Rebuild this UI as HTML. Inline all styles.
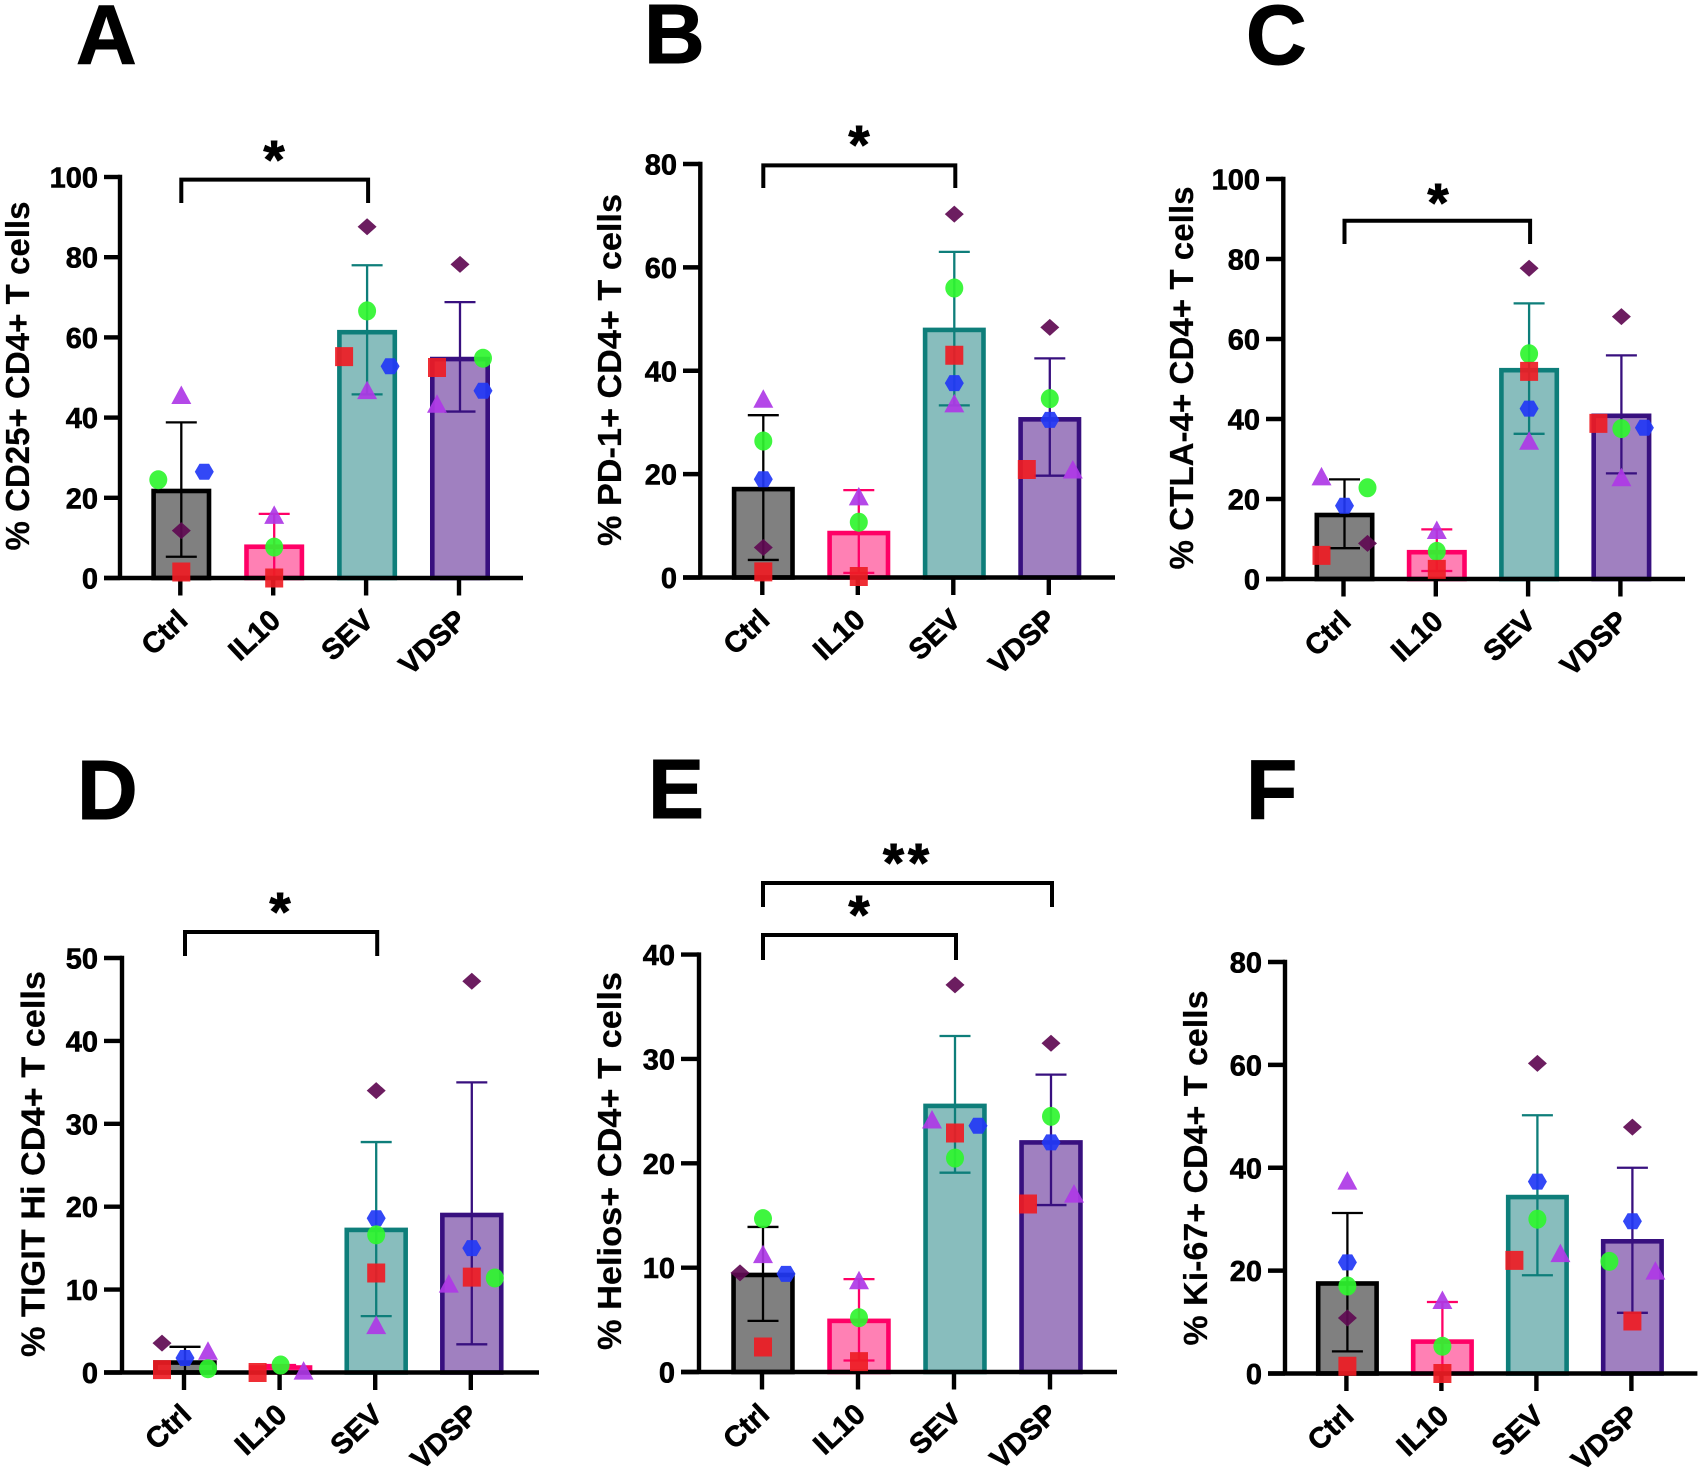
<!DOCTYPE html>
<html lang="en">
<head>
<meta charset="utf-8">
<title>T cell marker panels A–F</title>
<style>
html,body{margin:0;padding:0;background:#fff;width:1704px;height:1472px;overflow:hidden}
svg{display:block}
text{font-family:"Liberation Sans",Arial,sans-serif;font-weight:bold;fill:#000;stroke:#000;stroke-width:.6px}
.letter{font-size:84px;stroke-width:1px}
.ytitle{font-size:33px;stroke-width:.2px}
.star{font-size:54px;text-anchor:middle;stroke-width:1px}
</style>
</head>
<body>
<svg id="fig" xmlns="http://www.w3.org/2000/svg" width="1704" height="1472" viewBox="0 0 1704 1472">
<rect x="0" y="0" width="1704" height="1472" fill="#ffffff"/>
<text class="letter" x="76" y="64">A</text>
<text class="letter" x="644" y="63">B</text>
<text class="letter" x="1246" y="64">C</text>
<text class="letter" x="77" y="819">D</text>
<text class="letter" x="648" y="818">E</text>
<text class="letter" x="1246" y="819">F</text>

<text class="ytitle" text-anchor="middle" textLength="349" lengthAdjust="spacingAndGlyphs" transform="translate(29,376) rotate(-90)">% CD25+ CD4+ T cells</text>
<text class="ytitle" text-anchor="middle" textLength="352" lengthAdjust="spacingAndGlyphs" transform="translate(621,370) rotate(-90)">% PD-1+ CD4+ T cells</text>
<text class="ytitle" text-anchor="middle" textLength="383" lengthAdjust="spacingAndGlyphs" transform="translate(1193,378) rotate(-90)">% CTLA-4+ CD4+ T cells</text>
<text class="ytitle" text-anchor="middle" textLength="386" lengthAdjust="spacingAndGlyphs" transform="translate(44.5,1164) rotate(-90)">% TIGIT Hi CD4+ T cells</text>
<text class="ytitle" text-anchor="middle" textLength="378" lengthAdjust="spacingAndGlyphs" transform="translate(621,1161) rotate(-90)">% Helios+ CD4+ T cells</text>
<text class="ytitle" text-anchor="middle" textLength="355" lengthAdjust="spacingAndGlyphs" transform="translate(1207,1168) rotate(-90)">% Ki-67+ CD4+ T cells</text>

<text class="star" x="274" y="178">*</text>
<text class="star" x="859" y="163">*</text>
<text class="star" x="1438" y="221">*</text>
<text class="star" x="280" y="930">*</text>
<text class="star" x="859" y="933">*</text>
<text class="star" x="908" y="881" letter-spacing="4">**</text>
</svg>
<script>
const categories = ['Ctrl', 'IL10', 'SEV', 'VDSP'];

const ticksA = [0, 20, 40, 60, 80, 100];
const meansA = [21.7, 7.8, 61.3, 54.6];
const upperA = [38.8, 16, 78, 68.8];
const lowerA = [5.3, 0, 45.8, 41.5];
const diamondA = [11.8, null, 87.6, 78.2];
const triangleA = [45.4, 15.5, 46.6, 43.2];
const hexagonA = [26.5, null, 52.8, 46.7];
const circleA = [24.5, 7.7, 66.6, 54.8];
const squareA = [1.5, 0, 55.2, 52.5];

const ticksB = [0, 20, 40, 60, 80];
const meansB = [17.1, 8.6, 47.9, 30.6];
const upperB = [31.4, 16.9, 63, 42.4];
const lowerB = [3.4, 0.9, 33.3, 19.7];
const diamondB = [5.8, null, 70.3, 48.4];
const triangleB = [34.4, 15.5, 33.5, 20.7];
const hexagonB = [19, null, 37.6, 30.5];
const circleB = [26.4, 10.7, 56, 34.6];
const squareB = [1.1, 0.2, 43, 20.9];

const ticksC = [0, 20, 40, 60, 80, 100];
const meansC = [16, 6.7, 52.2, 40.8];
const upperC = [24.9, 12.4, 68.9, 55.9];
const lowerC = [7.7, 2, 36.3, 26.4];
const diamondC = [8.9, null, 77.7, 65.6];
const triangleC = [25.4, 12, 34.3, 25.2];
const hexagonC = [18.3, null, 42.6, 37.8];
const circleC = [22.8, 6.9, 56.3, 37.6];
const squareC = [5.9, 2.4, 51.9, 38.9];

const ticksD = [0, 10, 20, 30, 40, 50];
const meansD = [1.2, 0.6, 17.2, 19];
const upperD = [3.1, 0.9, 27.8, 35];
const lowerD = [0.1, 0.1, 6.8, 3.4];
const diamondD = [3.55, null, 34, 47.2];
const triangleD = [2.5, 0.1, 5.6, 10.6];
const hexagonD = [1.75, null, 18.6, 15];
const circleD = [0.45, 0.9, 16.6, 11.4];
const squareD = [0.35, 0, 12, 11.5];

const ticksE = [0, 10, 20, 30, 40];
const meansE = [9.3, 4.9, 25.5, 22];
const upperE = [13.9, 8.9, 32.2, 28.5];
const lowerE = [4.9, 1.1, 19.1, 16];
const diamondE = [9.5, null, 37.1, 31.5];
const triangleE = [11.2, 8.7, 24.1, 17];
const hexagonE = [9.4, null, 23.6, 22];
const circleE = [14.7, 5.2, 20.5, 24.5];
const squareE = [2.4, 1, 22.9, 16.1];

const ticksF = [0, 20, 40, 60, 80];
const meansF = [17.5, 6.2, 34.3, 25.7];
const upperF = [31.2, 13.9, 50.2, 40];
const lowerF = [4.3, 0, 19.1, 11.8];
const diamondF = [10.8, null, 60.3, 47.9];
const triangleF = [37.3, 14.1, 23.2, 19.8];
const hexagonF = [21.6, null, 37.3, 29.6];
const circleF = [17, 5.3, 30, 21.8];
const squareF = [1.4, 0, 22, 10.2];

const NS = 'http://www.w3.org/2000/svg';
const fig = document.getElementById('fig');
const fills = ['#808080', '#ff80b4', '#88bdbd', '#a080c0'];
const strokes = ['#000000', '#ff0066', '#0e7e7a', '#38107f'];

const layouts = [
  {id:'a', ticks:ticksA, means:meansA, upper:upperA, lower:lowerA, diamond:diamondA, triangle:triangleA, hexagon:hexagonA, circle:circleA, square:squareA,
   slots:{diamond:[0,0,0,0], triangle:[0,0,0,-1], hexagon:[1,0,1,1], circle:[-1,0,0,1], square:[0,0,-1,-1]},
   axisX:120, top:177, zero:578, right:523, tickLeft:104, first:181.3, step:92.9, barW:60,
   brackets:[{from:0, to:2, top:179.6, bottom:203}]},
  {id:'b', ticks:ticksB, means:meansB, upper:upperB, lower:lowerB, diamond:diamondB, triangle:triangleB, hexagon:hexagonB, circle:circleB, square:squareB,
   slots:{diamond:[0,0,0,0], triangle:[0,0,0,1], hexagon:[0,0,0,0], circle:[0,0,0,0], square:[0,0,0,-1]},
   axisX:700.3, top:164, zero:577.5, right:1115, tickLeft:683, first:763.3, step:95.5, barW:63,
   brackets:[{from:0, to:2, top:165.4, bottom:188}]},
  {id:'c', ticks:ticksC, means:meansC, upper:upperC, lower:lowerC, diamond:diamondC, triangle:triangleC, hexagon:hexagonC, circle:circleC, square:squareC,
   slots:{diamond:[1,0,0,0], triangle:[-1,0,0,0], hexagon:[0,0,0,1], circle:[1,0,0,0], square:[-1,0,0,-1]},
   axisX:1283.3, top:179, zero:579, right:1685, tickLeft:1266, first:1344.5, step:92.3, barW:60,
   brackets:[{from:0, to:2, top:220.7, bottom:244}]},
  {id:'d', ticks:ticksD, means:meansD, upper:upperD, lower:lowerD, diamond:diamondD, triangle:triangleD, hexagon:hexagonD, circle:circleD, square:squareD,
   slots:{diamond:[-1,0,0,0], triangle:[1,1,0,-1], hexagon:[0,0,0,0], circle:[1,0,0,1], square:[-1,-1,0,0]},
   axisX:122, top:958, zero:1372.5, right:539, tickLeft:104, first:185, step:95.6, barW:63.5,
   brackets:[{from:0, to:2, top:932, bottom:956}]},
  {id:'e', ticks:ticksE, means:meansE, upper:upperE, lower:lowerE, diamond:diamondE, triangle:triangleE, hexagon:hexagonE, circle:circleE, square:squareE,
   slots:{diamond:[-1,0,0,0], triangle:[0,0,-1,1], hexagon:[1,0,1,0], circle:[0,0,0,0], square:[0,0,0,-1]},
   axisX:699, top:954.6, zero:1372, right:1117, tickLeft:681, first:763, step:96, barW:63.5,
   brackets:[{from:0, to:2, top:935, bottom:960}, {from:0, to:3, top:883, bottom:907}]},
  {id:'f', ticks:ticksF, means:meansF, upper:upperF, lower:lowerF, diamond:diamondF, triangle:triangleF, hexagon:hexagonF, circle:circleF, square:squareF,
   slots:{diamond:[0,0,0,0], triangle:[0,0,1,1], hexagon:[0,0,0,0], circle:[0,0,0,-1], square:[0,0,-1,0]},
   axisX:1285, top:962, zero:1373.5, right:1697.4, tickLeft:1268, first:1347.4, step:95, barW:63,
   brackets:[]}
];

function make(tag, attrs) {
  const node = document.createElementNS(NS, tag);
  for (const key in attrs) node.setAttribute(key, attrs[key]);
  return node;
}

function poly(points, cx, cy) {
  return points.map(function (p) { return (cx + p[0]) + ',' + (cy + p[1]); }).join(' ');
}

const markerShapes = {
  diamond: [[-9.5,0],[0,-8.5],[9.5,0],[0,8.5]],
  triangle: [[0,-10.5],[10,8],[-10,8]],
  hexagon: [[-9.5,0],[-4.8,-8],[4.8,-8],[9.5,0],[4.8,8],[-4.8,8]],
  square: [[-9,-9.5],[9,-9.5],[9,9.5],[-9,9.5]]
};
const markerColors = {diamond:'#5f0a52', triangle:'#ae38e6', hexagon:'#2238f5', circle:'#2ff52f', square:'#ee1c24'};
const seriesOrder = ['diamond', 'triangle', 'hexagon', 'circle', 'square'];
const jitter = 23;

layouts.forEach(function (p) {
  const maxTick = p.ticks[p.ticks.length - 1];
  const yScale = function (v) { return p.zero - (v / maxTick) * (p.zero - p.top); };
  const xScale = function (i) { return p.first + i * p.step; };
  const panel = make('g', {});
  
  
  fig.appendChild(panel);

  p.means.forEach(function (m, i) {
    const sw = 4.6;
    const bar = make('rect', {
      x: xScale(i) - p.barW / 2 + sw / 2, y: yScale(m),
      width: p.barW - sw, height: Math.max(0, p.zero - yScale(m)),
      fill: fills[i], stroke: strokes[i], 'stroke-width': sw
    });
    
    
    panel.appendChild(bar);
  });

  p.means.forEach(function (m, i) {
    const x = xScale(i);
    const err = make('path', {
      d: 'M' + x + ' ' + yScale(p.upper[i]) + 'V' + yScale(p.lower[i]) +
         'M' + (x - 15.5) + ' ' + yScale(p.upper[i]) + 'H' + (x + 15.5) +
         'M' + (x - 15.5) + ' ' + yScale(p.lower[i]) + 'H' + (x + 15.5),
      fill: 'none', stroke: strokes[i], 'stroke-width': 2.3
    });
    
    
    panel.appendChild(err);
  });

  const axes = make('path', {
    d: 'M' + p.axisX + ' ' + (p.top - 2.2) + 'V' + p.zero + 'M' + p.tickLeft + ' ' + p.zero + 'H' + p.right,
    fill: 'none', stroke: '#000', 'stroke-width': 4.4
  });
  
  
  panel.appendChild(axes);

  p.ticks.forEach(function (t) {
    const y = yScale(t);
    const tick = make('line', {x1: p.tickLeft, x2: p.axisX, y1: y, y2: y, stroke: '#000', 'stroke-width': 4.4});
    
    
    panel.appendChild(tick);
    const label = make('text', {x: p.tickLeft - 6, y: y + 10.5, 'text-anchor': 'end', 'font-size': 29});
    
    
    label.textContent = String(t);
    panel.appendChild(label);
  });

  categories.forEach(function (c, i) {
    const x = xScale(i);
    const tick = make('line', {x1: x - 1, x2: x - 1, y1: p.zero, y2: p.zero + 17.5, stroke: '#000', 'stroke-width': 4.4});
    
    
    panel.appendChild(tick);
    const px = x + 8;
    const py = p.zero + 44.5;
    const label = make('text', {'text-anchor': 'end', 'font-size': 29, transform: 'translate(' + px + ',' + py + ') rotate(-43)'});
    
    
    label.textContent = c;
    panel.appendChild(label);
  });

  p.brackets.forEach(function (b, n) {
    const bracket = make('path', {
      d: 'M' + xScale(b.from) + ' ' + b.bottom + 'V' + b.top + 'H' + (xScale(b.to) + 1) + 'V' + b.bottom,
      fill: 'none', stroke: '#000', 'stroke-width': 4
    });
    
    
    panel.appendChild(bracket);
  });

  seriesOrder.forEach(function (s) {
    p[s].forEach(function (v, i) {
      if (v === null) return;
      const cx = xScale(i) + p.slots[s][i] * jitter;
      const cy = yScale(v);
      let mark;
      if (s === 'circle') {
        mark = make('ellipse', {cx: cx, cy: cy, rx: 9, ry: 9.5, fill: markerColors[s], 'fill-opacity': 0.92});
      } else {
        mark = make('polygon', {points: poly(markerShapes[s], cx, cy), fill: markerColors[s], 'fill-opacity': 0.92});
      }
      
      
      panel.appendChild(mark);
    });
  });
});
</script>
</body>
</html>
